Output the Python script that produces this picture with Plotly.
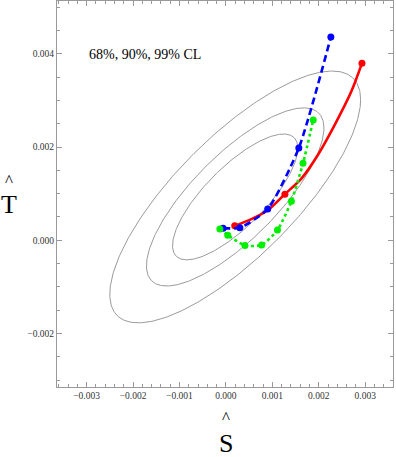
import numpy as np
import plotly.graph_objects as go

# ---- data ----
# confidence-level ellipses (fit result): centre, sigmas, correlation, chi2 levels (68, 90, 99 % CL)
ell_center = [0.0002, 0.00093]
ell_sigma = [0.00089, 0.00089]
ell_rho = 0.773
cl_chi2 = [2.30, 4.61, 9.21]

# red (solid) curve and its marked points
red_curve_x = [0.00019, 0.00056, 0.00091, 0.00127, 0.00163, 0.00198, 0.00234, 0.00270, 0.00293]
red_curve_y = [0.00031, 0.00046, 0.00065, 0.00099, 0.00133, 0.00183, 0.00247, 0.00319, 0.00380]
red_pts_x = [0.00019, 0.00127, 0.00293]
red_pts_y = [0.00031, 0.00099, 0.00380]

# blue (dashed)
blue_x = [-0.00006, 0.00030, 0.00090, 0.00157, 0.00226]
blue_y = [0.00026, 0.00027, 0.00067, 0.00198, 0.00436]

# green (dotted)
green_x = [-0.00013, 0.00004, 0.00041, 0.00077, 0.00111, 0.00141, 0.00166, 0.00188]
green_y = [0.00024, 0.00011, -0.00011, -0.00010, 0.00022, 0.00084, 0.00165, 0.00258]

x_ticks = [-0.003, -0.002, -0.001, 0.0, 0.001, 0.002, 0.003]
y_ticks = [-0.002, 0.0, 0.002, 0.004]

SERIF = "Liberation Serif, Times New Roman, serif"
FRAME = "#9a9a9a"

fig = go.Figure()

t = np.linspace(0, 2 * np.pi, 400)
for k in cl_chi2:
    r = np.sqrt(k)
    ex = ell_center[0] + r * ell_sigma[0] * np.cos(t)
    ey = ell_center[1] + r * ell_sigma[1] * (ell_rho * np.cos(t) + np.sqrt(1 - ell_rho**2) * np.sin(t))
    fig.add_trace(go.Scatter(x=ex, y=ey, mode="lines",
                             line=dict(color="#808080", width=0.8), hoverinfo="skip"))

fig.add_trace(go.Scatter(x=red_curve_x, y=red_curve_y, mode="lines",
                         line=dict(color="#ff0000", width=2.6, shape="spline", smoothing=0.8)))
fig.add_trace(go.Scatter(x=red_pts_x, y=red_pts_y, mode="markers",
                         marker=dict(color="#ff0000", size=7)))

fig.add_trace(go.Scatter(x=blue_x, y=blue_y, mode="lines+markers",
                         line=dict(color="#0000ff", width=2.6, dash="7px,4px", shape="spline", smoothing=0.6),
                         marker=dict(color="#0000ff", size=7)))

fig.add_trace(go.Scatter(x=green_x, y=green_y, mode="lines+markers",
                         line=dict(color="#00ee00", width=2.6, dash="3px,3px", shape="spline", smoothing=0.6),
                         marker=dict(color="#00ee00", size=7)))

axis_common = dict(showgrid=False, zeroline=False, showline=True, linecolor=FRAME, linewidth=1,
                   mirror="ticks", ticks="inside", ticklen=5, tickwidth=1, tickcolor=FRAME,
                   tickfont=dict(family=SERIF, size=9.5, color="#333333"),
                   tickformat=".3f", automargin=False)

fig.update_xaxes(range=[-0.003637, 0.003598], tickvals=x_ticks,
                 minor=dict(dtick=0.0002, ticks="inside", ticklen=3, tickcolor=FRAME, tickwidth=1),
                 **axis_common)
fig.update_yaxes(range=[-0.003147, 0.005133], tickvals=y_ticks,
                 minor=dict(dtick=0.0005, ticks="inside", ticklen=3, tickcolor=FRAME, tickwidth=1),
                 **axis_common)

annots = [
    dict(x=-0.002993, y=0.003975, xref="x", yref="y", text="68%, 90%, 99% CL",
         xanchor="left", yanchor="middle", showarrow=False,
         font=dict(family=SERIF, size=14, color="black")),
    dict(x=0.0, y=0, xref="x", yref="paper", text="^", xanchor="center", yanchor="middle",
         yshift=-30, showarrow=False, font=dict(family=SERIF, size=17, color="black")),
    dict(x=0.0, y=0, xref="x", yref="paper", text="S", xanchor="center", yanchor="middle",
         yshift=-56, showarrow=False, font=dict(family=SERIF, size=26, color="black")),
    dict(x=0, y=0.0013, xref="paper", yref="y", text="^", xanchor="center", yanchor="middle",
         xshift=-48.4, yshift=-1, showarrow=False, font=dict(family=SERIF, size=17, color="black")),
    dict(x=0, y=0.0008, xref="paper", yref="y", text="T", xanchor="center", yanchor="middle",
         xshift=-48.4, yshift=-1, showarrow=False, font=dict(family=SERIF, size=26, color="black")),
]

fig.update_layout(width=396, height=457, showlegend=False, template="none",
                  margin=dict(l=56.7, r=2.5, t=1, b=70),
                  paper_bgcolor="white", plot_bgcolor="white",
                  annotations=annots)

fig.write_html("out.html", config={"displayModeBar": False},
               post_script="document.body.style.margin='0';document.body.style.padding='0';")
